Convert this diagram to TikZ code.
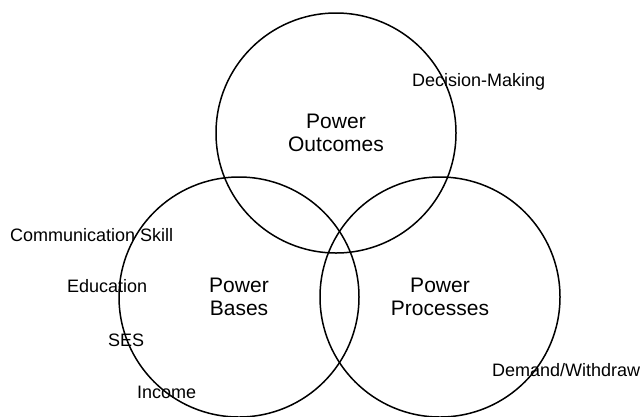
\documentclass[tikz,border=0pt]{standalone}
\usepackage{fontspec}
\setmainfont{Liberation Sans}

\begin{document}
\begin{tikzpicture}[x=1pt,y=-1pt,node distance=201pt,
    venn/.style={circle,draw,line width=1.5pt,minimum size=240pt,inner sep=0pt,
      align=center,font=\fontsize{21}{23}\selectfont},
    item/.style={inner sep=0pt,font=\fontsize{18}{21}\selectfont}]
  \useasboundingbox (0,0) rectangle (642,416);

  \node[venn] (outcomes) at (336,133) {Power\\Outcomes};
  \node[venn] (bases) at (239,297) {Power\\Bases};
  \node[venn] (processes) [right of=bases] {Power\\Processes};

  \path[every node/.style={item,anchor=base west}]
    (412,86.5) node (decision) {Decision-Making}
    (10,241.5) node (skill) {Communication Skill}
    (67,292) node (education) {Education}
    (108,346.5) node (ses) {SES}
    (137,398.5) node (income) {Income}
    (492,376.5) node (demand) {Demand/Withdraw};
\end{tikzpicture}
\end{document}
